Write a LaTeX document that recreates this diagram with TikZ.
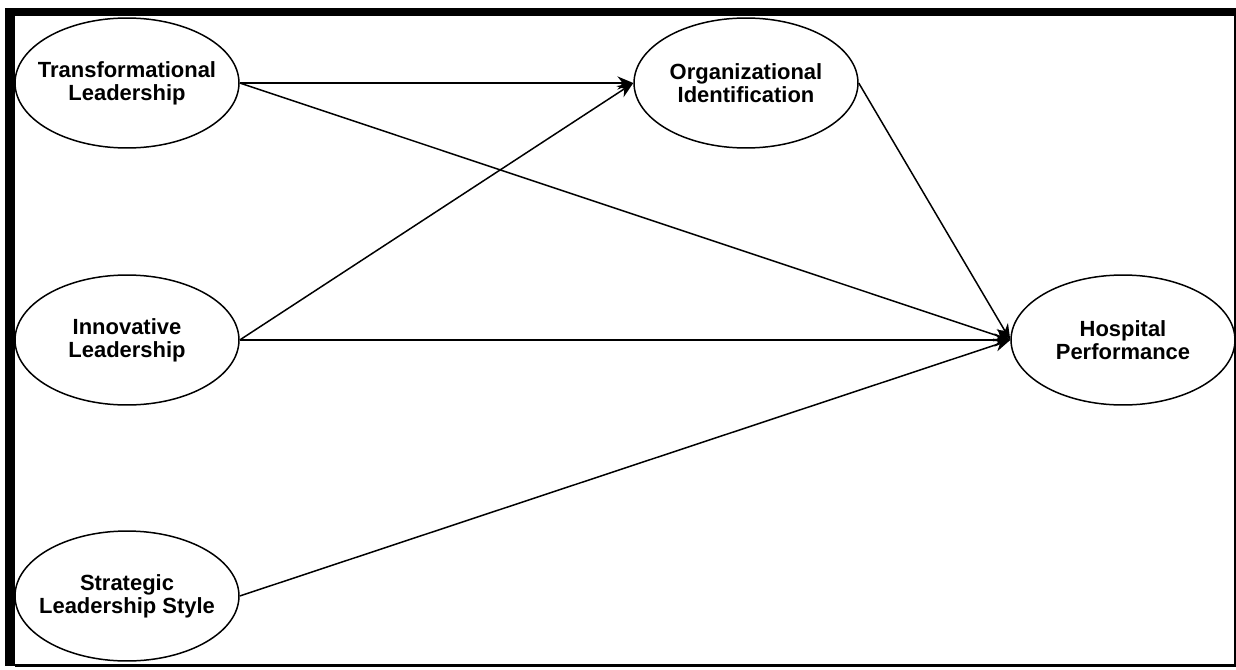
\documentclass[tikz,border=0pt]{standalone}
\usepackage{fontspec}
\setmainfont{Liberation Sans}
\usetikzlibrary{shapes.geometric,arrows.meta}
\begin{document}
\begin{tikzpicture}[x=0.02cm, y=-0.02cm, >={Stealth[length=9pt,width=7.5pt]},
		latent/.style={draw, ellipse, line width=0.85pt, inner xsep=-10pt, inner ysep=0pt,
			minimum width=4.48cm, minimum height=2.6cm, align=center,
			font=\fontsize{12.5}{13}\selectfont\bfseries},
		path/.style={->, line width=0.85pt}]
			\useasboundingbox (0,0) rectangle (1236,669);
			% frame
			\fill (5,8) rectangle (15,666);
			\fill (5,8) rectangle (1236,16);
			\draw[line width=1.2pt] (15,665.5) -- (1235,665.5) -- (1235,16);
			% constructs
			\node[latent] (tl) at (127,83) {Transformational\\Leadership};
			\node[latent] (il) at (127,340) {Innovative\\Leadership};
			\node[latent] (sl) at (127,596) {Strategic\\Leadership Style};
			\node[latent] (oi) at (746,83) {Organizational\\Identification};
			\node[latent] (hp) at (1123,340) {Hospital\\Performance};
			% paths
			\draw[path] (tl.east) -- (oi.west);
			\draw[path] (tl.east) -- (hp.west);
			\draw[path] (il.east) -- (oi.west);
			\draw[path] (il.east) -- (hp.west);
			\draw[path] (sl.east) -- (hp.west);
			\draw[path] (oi.east) -- (hp.west);
		\end{tikzpicture}
\end{document}
